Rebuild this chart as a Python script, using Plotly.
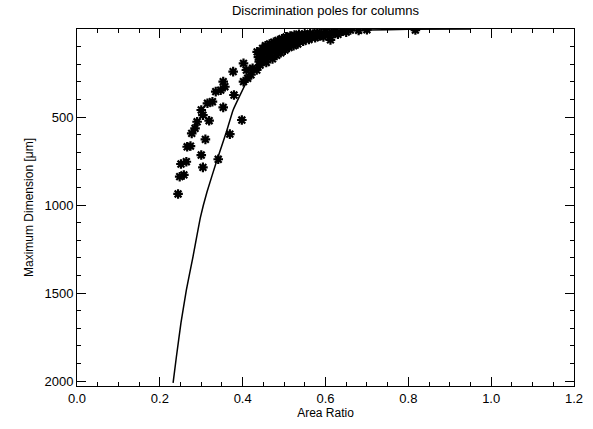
import plotly.graph_objects as go

# Fitted discrimination curve
curve_x = [0.232, 0.240, 0.251, 0.264, 0.280, 0.298, 0.314, 0.338, 0.360, 0.377,
           0.408, 0.434, 0.470, 0.500, 0.550, 0.600, 0.650, 0.700, 0.800, 0.950]
curve_y = [2010, 1862, 1670, 1483, 1294, 1070, 925, 744, 590, 460,
           307, 216, 140, 95, 50, 25, 12, 6, 2, 0]

# Observed columns (asterisks)
obs_x = [0.244, 0.248, 0.258, 0.251, 0.264, 0.266, 0.274, 0.277, 0.285, 0.290,
         0.300, 0.304, 0.315, 0.327, 0.335, 0.347, 0.353, 0.357, 0.377, 0.402,
         0.409, 0.402, 0.379, 0.353, 0.319, 0.310, 0.300, 0.304, 0.341, 0.369,
         0.398, 0.424, 0.434, 0.420, 0.412,
         0.435, 0.438, 0.440, 0.442, 0.445, 0.448, 0.450, 0.452, 0.455, 0.457,
         0.460, 0.462, 0.465, 0.467, 0.470, 0.472, 0.475, 0.477, 0.480, 0.482,
         0.485, 0.487, 0.490, 0.492, 0.495, 0.497, 0.500, 0.502, 0.505, 0.507,
         0.510, 0.512, 0.515, 0.517, 0.520, 0.523, 0.525, 0.528, 0.530, 0.533,
         0.536, 0.540, 0.543, 0.546, 0.550, 0.553, 0.556, 0.560, 0.563, 0.566,
         0.570, 0.575, 0.580, 0.585, 0.590, 0.595, 0.600, 0.605, 0.612, 0.615,
         0.620, 0.625, 0.630, 0.640, 0.650, 0.660, 0.680, 0.700, 0.817]
obs_y = [937, 839, 829, 767, 754, 669, 665, 593, 564, 527,
         460, 489, 422, 413, 356, 347, 299, 328, 242, 195,
         233, 299, 375, 445, 521, 627, 716, 786, 740, 597,
         517, 223, 233, 260, 280,
         130, 160, 185, 205, 145, 110, 175, 135, 95, 190,
         120, 155, 85, 140, 105, 170, 75, 125, 95, 150,
         65, 110, 80, 135, 55, 100, 70, 120, 45, 90,
         60, 105, 40, 80, 55, 95, 35, 70, 48, 85,
         30, 60, 40, 70, 28, 50, 35, 60, 25, 45,
         30, 50, 20, 40, 25, 45, 15, 30, 62, 18,
         25, 10, 30, 12, 18, 6, 8, 4, 6]

x_ticks = [0.0, 0.2, 0.4, 0.6, 0.8, 1.0, 1.2]
x_labels = ["0.0", "0.2", "0.4", "0.6", "0.8", "1.0", "1.2"]
y_ticks = [500, 1000, 1500, 2000]
y_labels = ["500", "1000", "1500", "2000"]

FONT = "Liberation Sans"

fig = go.Figure()
fig.add_trace(go.Scatter(
    x=obs_x, y=obs_y, mode="markers",
    marker=dict(symbol="asterisk-open", size=8,
                line=dict(color="black", width=2.2), color="black"),
    showlegend=False, hoverinfo="skip"))
fig.add_trace(go.Scatter(
    x=curve_x, y=curve_y, mode="lines",
    line=dict(color="black", width=1.5, shape="spline", smoothing=0.3),
    showlegend=False, hoverinfo="skip"))

axis_common = dict(
    showline=True, linecolor="black", linewidth=1, mirror="allticks",
    ticks="inside", tickcolor="black", showgrid=False, zeroline=False,
    tickfont=dict(family=FONT, size=13, color="black"),
)

fig.update_xaxes(
    range=[0, 1.2], tickvals=x_ticks, ticktext=x_labels, ticklen=9, tickwidth=1,
    minor=dict(dtick=0.05, tick0=0, ticks="inside", ticklen=4, tickcolor="black", showgrid=False),
    title=dict(text="Area Ratio", font=dict(family=FONT, size=12, color="black"), standoff=4),
    **axis_common)
fig.update_yaxes(
    range=[2028, 0], tickvals=y_ticks, ticktext=y_labels, ticklen=9, tickwidth=1,
    minor=dict(dtick=100, tick0=0, ticks="inside", ticklen=4, tickcolor="black", showgrid=False),
    title=dict(text="Maximum Dimension [μm]", font=dict(family=FONT, size=12, color="black"), standoff=8),
    **axis_common)

fig.update_layout(
    width=593, height=429,
    margin=dict(l=77, r=10, t=29, b=43),
    paper_bgcolor="white", plot_bgcolor="white",
    title=dict(text="Discrimination poles for columns", x=0.5, xref="paper",
               y=0.975, yanchor="middle",
               font=dict(family=FONT, size=13, color="black")),
)

fig.write_html("out.html")
